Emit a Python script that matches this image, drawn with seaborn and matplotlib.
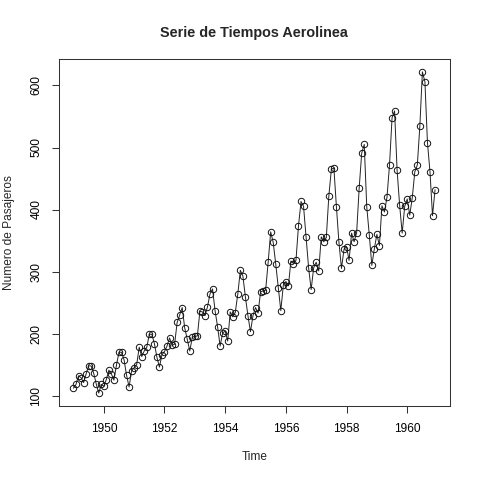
import numpy as np
import pandas as pd
import matplotlib
matplotlib.use("Agg")
import matplotlib.pyplot as plt
import seaborn as sns

# monthly passengers 1949-1960
years = list(range(1949, 1961))
pasajeros = [
    112, 118, 132, 129, 121, 135, 148, 148, 136, 119, 104, 118,
    115, 126, 141, 135, 125, 149, 170, 170, 158, 133, 114, 140,
    145, 150, 178, 163, 172, 178, 199, 199, 184, 162, 146, 166,
    171, 180, 193, 181, 183, 218, 230, 242, 209, 191, 172, 194,
    196, 196, 236, 235, 229, 243, 264, 272, 237, 211, 180, 201,
    204, 188, 235, 227, 234, 264, 302, 293, 259, 229, 203, 229,
    242, 233, 267, 269, 270, 315, 364, 347, 312, 274, 237, 278,
    284, 277, 317, 313, 318, 374, 413, 405, 355, 306, 271, 306,
    315, 301, 356, 348, 355, 422, 465, 467, 404, 347, 305, 336,
    340, 318, 362, 348, 363, 435, 491, 505, 404, 359, 310, 337,
    360, 342, 406, 396, 420, 472, 548, 559, 463, 407, 362, 405,
    417, 391, 419, 461, 472, 535, 622, 606, 508, 461, 390, 432,
]
x_ticks = [1950, 1952, 1954, 1956, 1958, 1960]
y_ticks = [100, 200, 300, 400, 500, 600]

df = pd.DataFrame({
    "Time": [y + m / 12 for y in years for m in range(12)],
    "Pasajeros": pasajeros,
})

sns.set_style("white")
plt.rcParams["font.family"] = ["Liberation Sans", "DejaVu Sans"]

fig = plt.figure(figsize=(4.8, 4.8), dpi=100)
ax = fig.add_axes([59 / 480, 1 - 406 / 480, 390.5 / 480, 347 / 480])

sns.lineplot(data=df, x="Time", y="Pasajeros", ax=ax, color="#222222",
             linewidth=0.7, marker="o", markersize=4.6,
             markerfacecolor="none", markeredgecolor="#111111",
             markeredgewidth=0.7)

t0, t1 = df["Time"].min(), df["Time"].max()
ax.set_xlim(t0 - 0.04 * (t1 - t0), t1 + 0.04 * (t1 - t0))
v0, v1 = min(pasajeros), max(pasajeros)
ax.set_ylim(v0 - 0.04 * (v1 - v0), v1 + 0.04 * (v1 - v0))

ax.set_xticks(x_ticks)
ax.set_yticks(y_ticks)
ax.set_xticklabels([str(v) for v in x_ticks])
ax.set_yticklabels([str(v) for v in y_ticks], rotation=90, va="center")
ax.tick_params(axis="both", direction="out", length=5, width=0.75,
               labelsize=8.6, pad=7, color="#333333", labelcolor="black",
               bottom=True, left=True)
for s in ax.spines.values():
    s.set_color("#333333")
    s.set_linewidth(0.75)

ax.set_xlabel("Time", fontsize=8.6, labelpad=12)
ax.set_ylabel("Numero de Pasajeros", fontsize=8.6, labelpad=11)
ax.set_title("Serie de Tiempos Aerolinea", fontsize=10.4, fontweight="bold",
             pad=16)

fig.savefig("out.png", dpi=100)
